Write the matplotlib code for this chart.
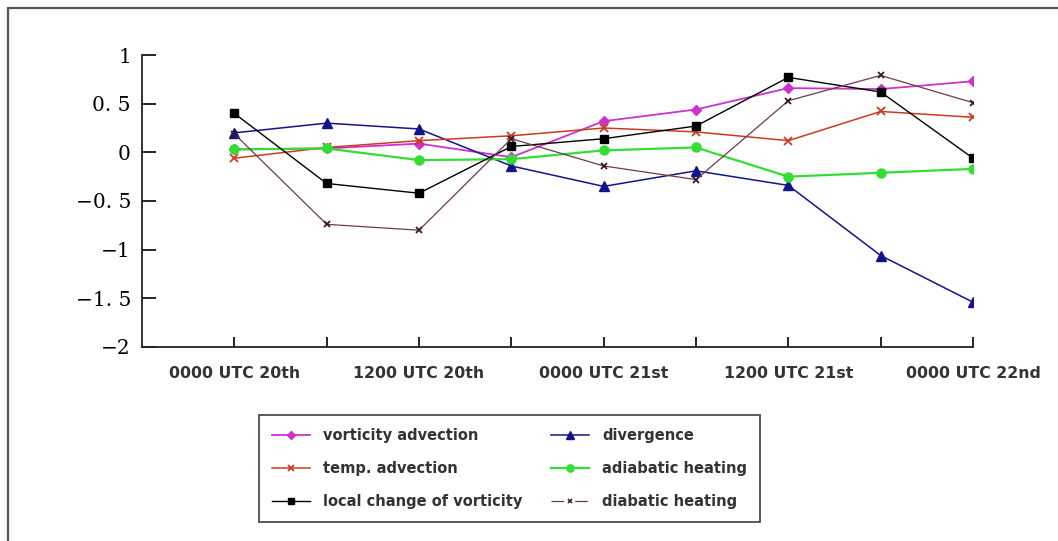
import matplotlib.pyplot as plt
from matplotlib.patches import Rectangle
from matplotlib.lines import Line2D

# time steps (every 6 h), labels only on the 12-hourly ones
steps = list(range(9))
tick_labels = ["0000 UTC 20th", "", "1200 UTC 20th", "", "0000 UTC 21st",
               "", "1200 UTC 21st", "", "0000 UTC 22nd"]

vort_adv = [0.03, 0.04, 0.09, -0.05, 0.32, 0.44, 0.66, 0.65, 0.73]
divergence = [0.20, 0.30, 0.24, -0.14, -0.35, -0.19, -0.34, -1.06, -1.54]
temp_adv = [-0.06, 0.05, 0.12, 0.17, 0.25, 0.21, 0.12, 0.42, 0.36]
adiabatic = [0.03, 0.04, -0.08, -0.07, 0.02, 0.05, -0.25, -0.21, -0.17]
local_vort = [0.40, -0.32, -0.42, 0.06, 0.14, 0.27, 0.77, 0.62, -0.06]
diabatic = [0.19, -0.74, -0.80, 0.14, -0.14, -0.28, 0.53, 0.79, 0.51]

y_ticks = [1, 0.5, 0, -0.5, -1, -1.5, -2]
y_labels = ["1", "0. 5", "0", "\u22120. 5", "\u22121", "\u22121. 5", "\u22122"]

fig = plt.figure(figsize=(10.58, 5.41), dpi=100)
ax = fig.add_axes([142 / 1058, 1 - 347 / 541, 831 / 1058, 292 / 541])

# outer frame (right/bottom edges fall outside the canvas)
fig.patches.append(Rectangle((8 / 1058, -0.1), 1.2, 1 - 8 / 541 + 0.1,
                             transform=fig.transFigure, fill=False,
                             edgecolor="#555555", linewidth=1.6))

h1, = ax.plot(steps, vort_adv, color="#cc33cc", marker="D", markersize=5.5, lw=1.3)
h2, = ax.plot(steps, divergence, color="#14148a", marker="^", markersize=7, lw=1.1)
h3, = ax.plot(steps, temp_adv, color="#cc3a22", marker="x", markersize=6, mew=1.3, lw=1.1)
h4, = ax.plot(steps, adiabatic, color="#33dd33", marker="o", markersize=6.5, lw=1.6)
h5, = ax.plot(steps, local_vort, color="black", marker="s", markersize=6, lw=1.0)
h6, = ax.plot(steps, diabatic, color="#6e3a4a", marker="x", markersize=5,
              mew=1.3, mec="#3a1a2a", lw=0.9)

# legend entry for diabatic heating is drawn broken: -x-
h6_leg = Line2D([], [], color="#6e3a4a", marker="x", markersize=4, mew=1.2,
                mec="#3a1a2a", lw=0.9, linestyle=(0, (10, 9)))

ax.set_xlim(-1, 8)
ax.set_ylim(-2, 1)
ax.spines["top"].set_visible(False)
ax.spines["right"].set_visible(False)
for s in ("left", "bottom"):
    ax.spines[s].set_linewidth(1.3)
    ax.spines[s].set_color("#222222")

ax.set_yticks(y_ticks)
ax.set_yticklabels(y_labels, fontfamily="DejaVu Serif", fontsize=14.5)
ax.tick_params(axis="y", direction="in", length=10, width=1.2, pad=8)

ax.set_xticks(steps)
ax.set_xticklabels(tick_labels, fontfamily="DejaVu Sans", fontweight="bold",
                   fontsize=11.3, color="#333333")
ax.tick_params(axis="x", direction="in", length=7, width=1.2, pad=14)

leg = fig.legend([h1, h3, h5, h2, h4, h6_leg],
                 ["vorticity advection", "temp. advection", "local change of vorticity",
                  "divergence", "adiabatic heating", "diabatic heating"],
                 ncol=2, loc="upper left", bbox_to_anchor=(252 / 1058, 1 - 408 / 541),
                 prop={"family": "DejaVu Sans", "weight": "bold", "size": 10.5},
                 frameon=True, fancybox=False, edgecolor="#222222",
                 handlelength=2.6, handletextpad=0.9, columnspacing=2.0,
                 labelspacing=1.25, borderpad=0.85, markerscale=0.8)
leg.get_frame().set_linewidth(1.3)
for t in leg.get_texts():
    t.set_color("#333333")

fig.savefig("out.png", dpi=100)
